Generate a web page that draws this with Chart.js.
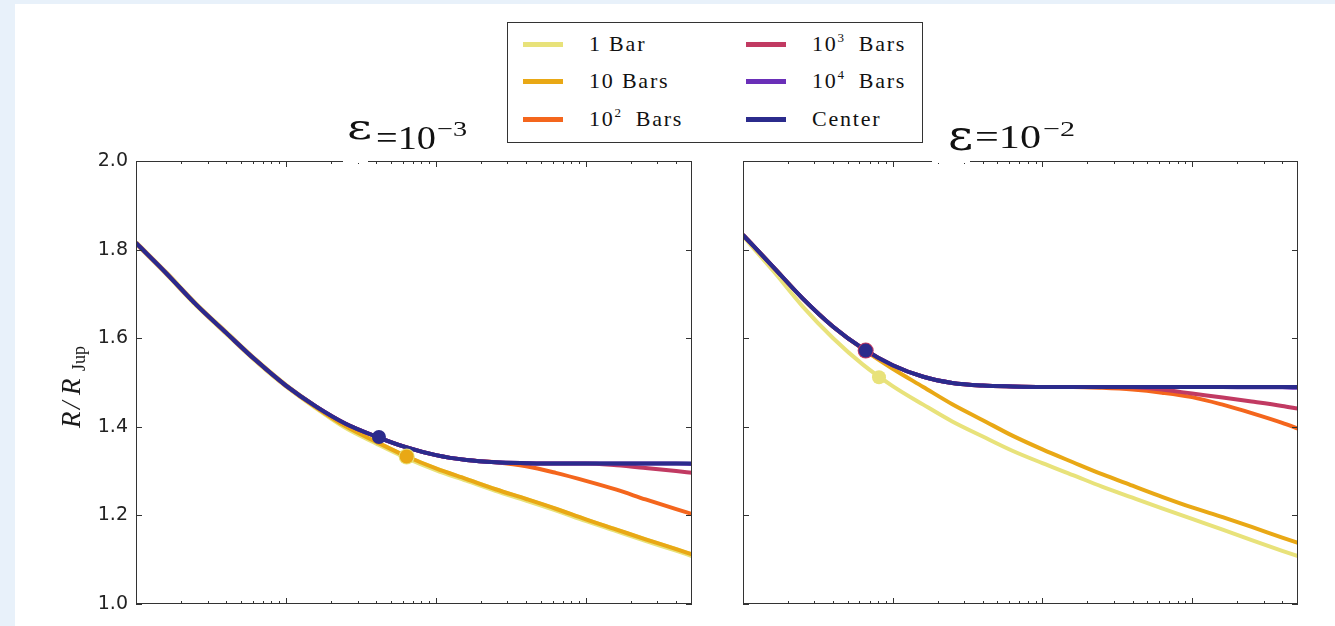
<!DOCTYPE html>
<html>
<head>
<meta charset="utf-8">
<script src="https://cdn.jsdelivr.net/npm/chart.js@4.4.1/dist/chart.umd.min.js"></script>
<style>
    html, body { margin: 0; padding: 0; }
    body { width: 1335px; height: 626px; background: #e8f1fa; position: relative; overflow: hidden; }
    #sheet { position: absolute; left: 15px; top: 4px; right: 0; bottom: 0; background: #fff; }
    #left-chart { position: absolute; left: 0; top: 0; }
    #right-chart { position: absolute; left: 700px; top: 0; }
    #legend {
        position: absolute; left: 507px; top: 22px; width: 414px; height: 119px;
        border: 1px solid #333; background: #fff; z-index: 2;
        font-family: "Liberation Serif", serif; font-size: 22px; letter-spacing: 1.8px; color: #111;
    }
    #legend .swatch { position: absolute; width: 40px; height: 5px; }
    #legend .label { position: absolute; height: 24px; line-height: 24px; white-space: nowrap; }
    #legend sup { font-size: 13px; vertical-align: 9px; line-height: 0; letter-spacing: 0; }
</style>
</head>
<body>
<div id="sheet"></div>
<canvas id="left-chart" width="700" height="626"></canvas>
<canvas id="right-chart" width="635" height="626"></canvas>
<div id="legend"></div>
<script>
// time axis samples (log scale, labels are cut off in the original)
const timeGyr = [0.001, 0.0016, 0.0025, 0.004, 0.0063, 0.01, 0.016, 0.025, 0.04, 0.063,
                 0.1, 0.16, 0.25, 0.4, 0.63, 1, 1.6, 2.5, 4, 5.1];

// eps = 1e-3 panel
const leftBar1   = [1.815, 1.746, 1.677, 1.612, 1.550, 1.493, 1.443, 1.399, 1.364, 1.332,
                    1.304, 1.280, 1.257, 1.235, 1.213, 1.189, 1.166, 1.144, 1.122, 1.110];
const leftBar10  = [1.815, 1.746, 1.677, 1.612, 1.550, 1.493, 1.443, 1.401, 1.366, 1.334,
                    1.306, 1.282, 1.259, 1.237, 1.215, 1.191, 1.168, 1.146, 1.124, 1.112];
const leftBar100 = [1.815, 1.746, 1.677, 1.612, 1.550, 1.493, 1.445, 1.407, 1.378, 1.354,
                    1.336, 1.325, 1.320, 1.311, 1.296, 1.278, 1.258, 1.236, 1.214, 1.203];
const leftBar1e3 = [1.815, 1.746, 1.677, 1.612, 1.550, 1.493, 1.445, 1.407, 1.378, 1.354,
                    1.336, 1.325, 1.320, 1.318, 1.317, 1.317, 1.313, 1.307, 1.300, 1.296];
const leftBar1e4 = [1.815, 1.746, 1.677, 1.612, 1.550, 1.493, 1.445, 1.407, 1.378, 1.354,
                    1.336, 1.325, 1.320, 1.318, 1.317, 1.317, 1.317, 1.317, 1.317, 1.316];
const leftCenter = [1.815, 1.746, 1.677, 1.612, 1.550, 1.493, 1.445, 1.407, 1.378, 1.354,
                    1.336, 1.325, 1.320, 1.318, 1.317, 1.317, 1.317, 1.317, 1.317, 1.317];
const leftCenterMark = [0.0417, 1.377];
const leftBar10Mark  = [0.0638, 1.333];

// eps = 1e-2 panel
const rightBar1   = [1.830, 1.751, 1.672, 1.600, 1.541, 1.492, 1.450, 1.412, 1.378, 1.346,
                     1.318, 1.291, 1.265, 1.240, 1.216, 1.192, 1.168, 1.144, 1.120, 1.108];
const rightBar10  = [1.833, 1.760, 1.690, 1.626, 1.576, 1.531, 1.490, 1.451, 1.415, 1.380,
                     1.349, 1.320, 1.293, 1.267, 1.242, 1.218, 1.196, 1.174, 1.150, 1.138];
const rightBar100 = [1.833, 1.760, 1.690, 1.626, 1.577, 1.539, 1.513, 1.499, 1.493, 1.491,
                     1.490, 1.490, 1.488, 1.484, 1.477, 1.467, 1.450, 1.431, 1.409, 1.396];
const rightBar1e3 = [1.833, 1.760, 1.690, 1.626, 1.577, 1.539, 1.513, 1.499, 1.493, 1.491,
                     1.490, 1.490, 1.490, 1.489, 1.484, 1.475, 1.466, 1.457, 1.447, 1.441];
const rightBar1e4 = [1.833, 1.760, 1.690, 1.626, 1.577, 1.539, 1.513, 1.499, 1.493, 1.491,
                     1.490, 1.490, 1.490, 1.490, 1.490, 1.490, 1.490, 1.489, 1.489, 1.488];
const rightCenter = [1.833, 1.760, 1.690, 1.626, 1.577, 1.539, 1.513, 1.499, 1.493, 1.491,
                     1.490, 1.490, 1.490, 1.490, 1.490, 1.490, 1.490, 1.490, 1.490, 1.490];
const rightCenterMark = [0.0066, 1.572];
const rightBar1Mark   = [0.0081, 1.512];

const yTickValues = [1.0, 1.2, 1.4, 1.6, 1.8, 2.0];
const xMajorTicks = [0.001, 0.01, 0.1, 1];
const xMinorTicks = [0.002, 0.003, 0.004, 0.005, 0.006, 0.007, 0.008, 0.009,
                     0.02, 0.03, 0.04, 0.05, 0.06, 0.07, 0.08, 0.09,
                     0.2, 0.3, 0.4, 0.5, 0.6, 0.7, 0.8, 0.9, 2, 3, 4, 5];

const seriesLabels = ['1 Bar', '10 Bars', '10<sup>2</sup>&nbsp; Bars', '10<sup>3</sup>&nbsp; Bars', '10<sup>4</sup>&nbsp; Bars', 'Center'];
const seriesColors = ['#e8e27a', '#e9a815', '#f4661d', '#c13a62', '#6a2fb8', '#2b2b8c'];

Chart.defaults.font.family = '"DejaVu Sans", sans-serif';

// legend box (html so the superscripts stay text)
const legendEl = document.getElementById('legend');
seriesLabels.forEach((label, i) => {
    const col = Math.floor(i / 3), row = i % 3;
    const cy = [21, 58, 96][row];
    const sw = document.createElement('div');
    sw.className = 'swatch';
    sw.style.left = (col ? 238 : 15) + 'px';
    sw.style.top = (cy - 2.5) + 'px';
    sw.style.background = seriesColors[i];
    legendEl.appendChild(sw);
    const tx = document.createElement('div');
    tx.className = 'label';
    tx.style.left = (col ? 304 : 81) + 'px';
    tx.style.top = (cy - 12) + 'px';
    tx.innerHTML = label;
    legendEl.appendChild(tx);
});

function toPoints(ys) {
    return timeGyr.map((x, i) => ({ x: x, y: ys[i] }));
}

function lineSet(ys, color, width, order) {
    return {
        data: toPoints(ys), borderColor: color, borderWidth: width, pointRadius: 0,
        cubicInterpolationMode: 'monotone', fill: false, clip: 0, order: order
    };
}

function markSet(mark, color, radius, order) {
    return {
        data: [{ x: mark[0], y: mark[1] }], showLine: false, pointRadius: radius,
        pointBackgroundColor: color, pointBorderWidth: 0, borderColor: color, order: order
    };
}

function fitText(ctx, text, font, left, base, width) {
    ctx.font = font;
    const w = ctx.measureText(text).width;
    ctx.save();
    ctx.translate(left, base);
    ctx.scale(width / w, 1);
    ctx.fillText(text, 0, 0);
    ctx.restore();
}

function drawYLabel(ctx) {
    ctx.save();
    ctx.translate(80, 428);
    ctx.rotate(-Math.PI / 2);
    ctx.fillStyle = '#1a1a1a';
    ctx.font = 'italic 27px "Liberation Serif"';
    ctx.fillText('R', 0, 0);
    ctx.fillText('/', 19, 0);
    ctx.fillText('R', 33, 0);
    ctx.font = '18px "Liberation Serif"';
    ctx.fillText('Jup', 57, 5);
    ctx.restore();
}

const panelDecor = {
    id: 'panelDecor',
    afterDatasetsDraw(chart) {
        const { ctx, chartArea: a, scales: { x, y } } = chart;
        ctx.save();
        ctx.strokeStyle = '#333';
        ctx.lineWidth = 1;
        ctx.strokeRect(a.left + 0.5, a.top + 0.5, a.width - 1, a.height - 1);
        ctx.beginPath();
        yTickValues.forEach(v => {
            const py = Math.round(y.getPixelForValue(v)) + 0.5;
            ctx.moveTo(a.left, py); ctx.lineTo(a.left + 6, py);
            ctx.moveTo(a.right, py); ctx.lineTo(a.right - 6, py);
        });
        const xTick = (v, len) => {
            const px = Math.round(x.getPixelForValue(v)) + 0.5;
            ctx.moveTo(px, a.bottom); ctx.lineTo(px, a.bottom - len);
            ctx.moveTo(px, a.top); ctx.lineTo(px, a.top + len);
        };
        xMajorTicks.forEach(v => xTick(v, 6));
        xMinorTicks.forEach(v => xTick(v, 3));
        ctx.stroke();
        ctx.restore();
    },
    afterDraw(chart, args, opts) {
        const ctx = chart.ctx;
        const dx = opts.offsetX;
        ctx.save();
        ctx.fillStyle = '#fff';
        ctx.fillRect(opts.gap[0] - dx, 157, opts.gap[1] - opts.gap[0], 6);
        ctx.fillStyle = '#111';
        ctx.textBaseline = 'alphabetic';
        opts.title.forEach(p => fitText(ctx, p.text, p.font, p.left - dx, p.base, p.width));
        ctx.restore();
        if (opts.yLabel) drawYLabel(ctx);
    }
};

function panelOptions(showY, padding, decor) {
    return {
        responsive: false,
        animation: false,
        events: [],
        layout: { padding: padding },
        scales: {
            x: { type: 'logarithmic', min: 0.001, max: 5.1, display: false },
            y: {
                min: 1, max: 2, display: showY,
                ticks: {
                    stepSize: 0.2, padding: 8, color: '#222', font: { size: 19 },
                    callback: v => Number(v).toFixed(1)
                },
                grid: { display: false, drawTicks: false },
                border: { display: false },
                afterFit: s => { if (showY) s.width = 136; }
            }
        },
        plugins: { legend: { display: false }, tooltip: { enabled: false }, panelDecor: decor }
    };
}

new Chart(document.getElementById('left-chart'), {
    type: 'line',
    data: {
        datasets: [
            lineSet(leftBar1, seriesColors[0], 5.5, 6),
            lineSet(leftBar10, seriesColors[1], 4, 5),
            lineSet(leftBar100, seriesColors[2], 4, 4),
            lineSet(leftBar1e3, seriesColors[3], 4, 3),
            lineSet(leftBar1e4, seriesColors[4], 4, 2),
            lineSet(leftCenter, seriesColors[5], 4, 1),
            markSet(leftBar10Mark, seriesColors[0], 8, -1),
            markSet(leftBar10Mark, seriesColors[1], 7, -2),
            markSet(leftCenterMark, seriesColors[5], 7, -3)
        ]
    },
    options: panelOptions(true, { left: 0, right: 8, top: 161, bottom: 22 }, {
        offsetX: 0, gap: [343, 368], yLabel: true,
        title: [
            { text: 'ε', font: '34px "DejaVu Serif"', left: 347, base: 139, width: 25 },
            { text: '=10', font: '34px "Liberation Serif"', left: 376, base: 149, width: 60 },
            { text: '−3', font: '22px "Liberation Serif"', left: 437, base: 136, width: 30 }
        ]
    }),
    plugins: [panelDecor]
});

new Chart(document.getElementById('right-chart'), {
    type: 'line',
    data: {
        datasets: [
            lineSet(rightBar1, seriesColors[0], 4, 6),
            lineSet(rightBar10, seriesColors[1], 4, 5),
            lineSet(rightBar100, seriesColors[2], 4, 4),
            lineSet(rightBar1e3, seriesColors[3], 4, 3),
            lineSet(rightBar1e4, seriesColors[4], 4, 2),
            lineSet(rightCenter, seriesColors[5], 4, 1),
            markSet(rightBar1Mark, seriesColors[0], 7, -1),
            markSet(rightCenterMark, seriesColors[3], 8, -2),
            markSet(rightCenterMark, seriesColors[5], 7, -3)
        ]
    },
    options: panelOptions(false, { left: 43, right: 37, top: 161, bottom: 22 }, {
        offsetX: 700, gap: [932, 970], yLabel: false,
        title: [
            { text: 'ε', font: '42px "DejaVu Serif"', left: 948, base: 150, width: 25 },
            { text: '=10', font: '34px "Liberation Serif"', left: 975, base: 148, width: 66 },
            { text: '−2', font: '22px "Liberation Serif"', left: 1043, base: 136, width: 32 }
        ]
    }),
    plugins: [panelDecor]
});
</script>
</body>
</html>
